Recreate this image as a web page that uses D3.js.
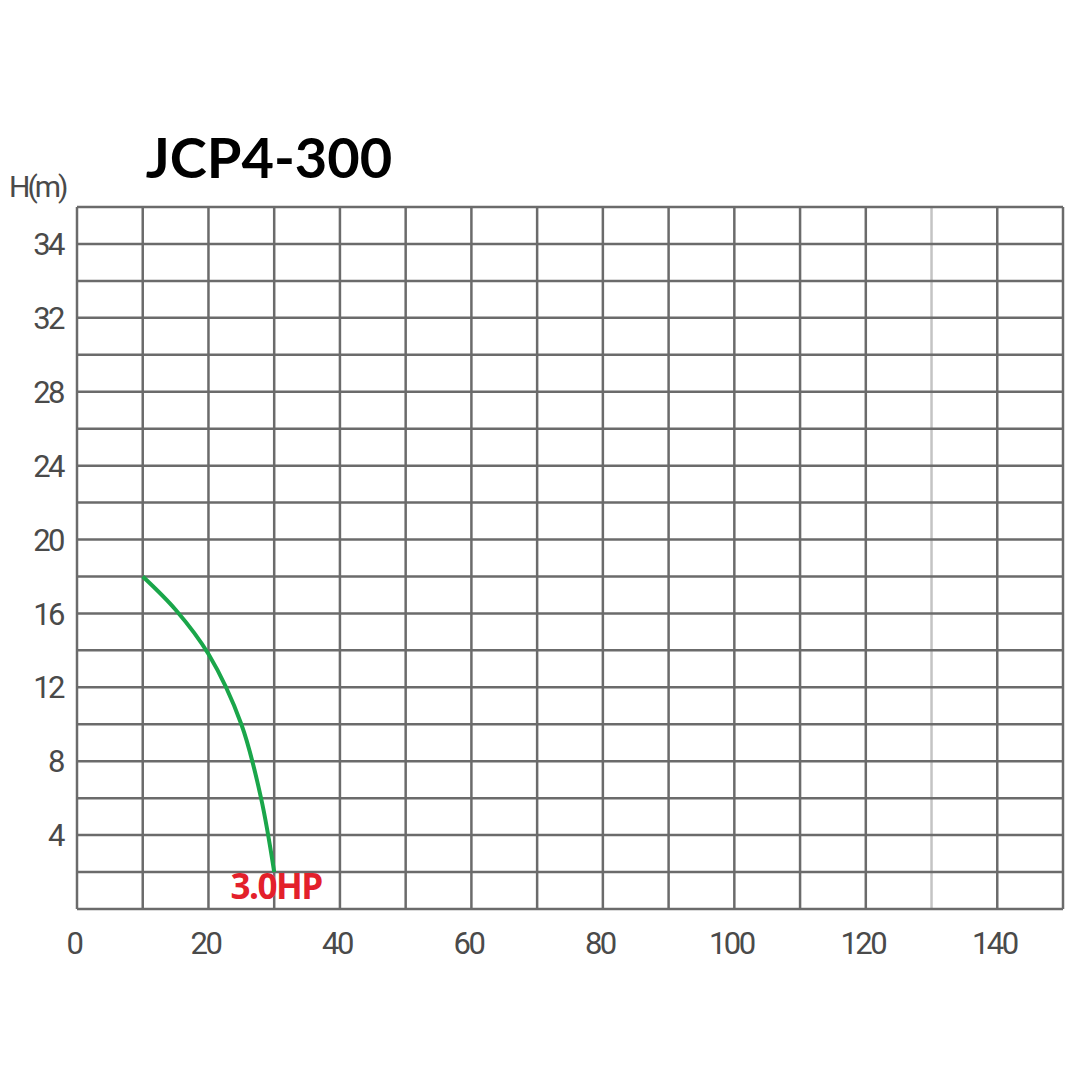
<!DOCTYPE html>
<html>
<head>
<meta charset="utf-8">
<script src="https://cdn.jsdelivr.net/npm/d3@7"></script>
<style>
  body { margin: 0; background: #fff; }
</style>
</head>
<body>
<svg id="chart"></svg>
<script>
// curve data
var flow = [10, 15, 20, 25, 28, 30];
var head = [18, 16.2, 13.8, 10, 6, 2];

// axis ticks
var xTicks = [0, 20, 40, 60, 80, 100, 120, 140];
var yTickPos = [4, 8, 12, 16, 20, 24, 28, 32, 36];
var yTickLabels = ["4", "8", "12", "16", "20", "24", "28", "32", "34"];

var title = "JCP4-300";
var curveLabel = "3.0HP";

var margin = {top: 207, right: 17, bottom: 171, left: 77},
    width = 1080 - margin.left - margin.right,
    height = 1080 - margin.top - margin.bottom;

var svg = d3.select("#chart")
    .attr("width", 1080)
    .attr("height", 1080);

var g = svg.append("g")
    .attr("transform", "translate(" + margin.left + "," + margin.top + ")");

var x = d3.scaleLinear().domain([0, 150]).range([0, width]);
var y = d3.scaleLinear().domain([0, 38]).range([height, 0]);

var gridColor = "#6b6b6b";

// vertical grid lines every 10
g.selectAll(".vgrid")
    .data(d3.range(0, 151, 10))
  .enter().append("line")
    .attr("class", "vgrid")
    .attr("x1", d => x(d)).attr("x2", d => x(d))
    .attr("y1", 0).attr("y2", height)
    .attr("stroke", d => d == 130 ? "#c4c4c4" : gridColor)
    .attr("stroke-width", 2.5);

// horizontal grid lines every 2
g.selectAll(".hgrid")
    .data(d3.range(0, 39, 2))
  .enter().append("line")
    .attr("class", "hgrid")
    .attr("x1", 0).attr("x2", width)
    .attr("y1", d => y(d)).attr("y2", d => y(d))
    .attr("stroke", gridColor)
    .attr("stroke-width", 2.5);

// x labels
g.selectAll(".xlab")
    .data(xTicks)
  .enter().append("text")
    .attr("class", "xlab")
    .attr("x", d => x(d) - 3)
    .attr("y", height + 45)
    .attr("text-anchor", "middle")
    .style("font-family", "Roboto")
    .style("font-size", "31px")
    .style("letter-spacing", "-2.5px")
    .style("fill", "#4a4a4a")
    .text(d => d);

// y labels
g.selectAll(".ylab")
    .data(yTickPos)
  .enter().append("text")
    .attr("class", "ylab")
    .attr("x", -14)
    .attr("y", d => y(d))
    .attr("dy", "0.36em")
    .attr("text-anchor", "end")
    .style("font-family", "Roboto")
    .style("font-size", "31px")
    .style("letter-spacing", "-2.5px")
    .style("fill", "#4a4a4a")
    .text((d, i) => yTickLabels[i]);

// y axis title
svg.append("text")
    .attr("x", 9)
    .attr("y", 197)
    .style("font-family", "Roboto")
    .style("font-size", "30px")
    .style("letter-spacing", "-3px")
    .style("fill", "#4a4a4a")
    .text("H(m)");

// chart title
svg.append("text")
    .attr("x", 269)
    .attr("y", 178)
    .attr("text-anchor", "middle")
    .style("font-family", "Lato")
    .style("font-weight", "bold")
    .style("font-size", "56px")
    .style("fill", "#000")
    .text(title);

// pump curve
var pts = flow.map((d, i) => [d, head[i]]);
var line = d3.line()
    .x(d => x(d[0]))
    .y(d => y(d[1]))
    .curve(d3.curveCatmullRom);

g.append("path")
    .datum(pts)
    .attr("d", line)
    .attr("fill", "none")
    .attr("stroke", "#1aa64a")
    .attr("stroke-width", 4);

g.append("text")
    .attr("x", x(flow[flow.length - 1]) + 2)
    .attr("y", height - 10)
    .attr("text-anchor", "middle")
    .style("font-family", "Open Sans")
    .style("font-weight", "bold")
    .style("font-size", "35px")
    .style("letter-spacing", "-1.5px")
    .style("fill", "#e3202b")
    .text(curveLabel);
</script>
</body>
</html>
